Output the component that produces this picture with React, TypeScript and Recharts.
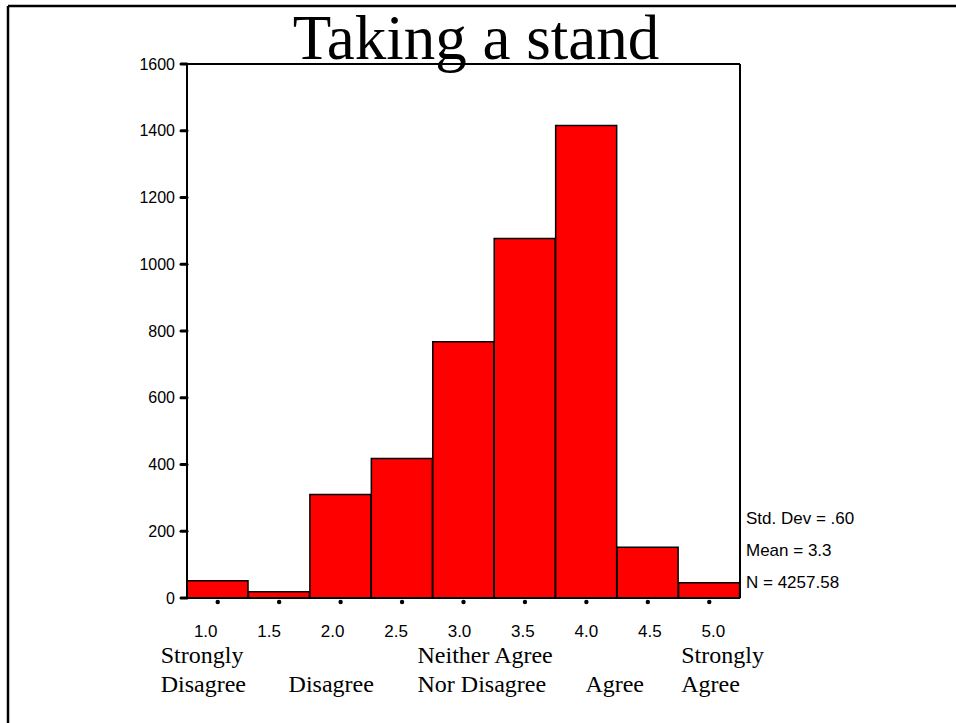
import React from "react";
import { BarChart, Bar, XAxis, YAxis, ReferenceLine } from "recharts";

// histogram bins (midpoints) and counts
const bins = ["1.0", "1.5", "2.0", "2.5", "3.0", "3.5", "4.0", "4.5", "5.0"];
const counts = [52, 19, 310, 418, 768, 1077, 1416, 152, 46];
const yTicks = [0, 200, 400, 600, 800, 1000, 1200, 1400, 1600];

// scale anchors shown below some of the bins
const anchorBins = ["1.0", "2.0", "3.0", "4.0", "5.0"];
const anchorLine1 = ["Strongly", "", "Neither Agree", "", "Strongly"];
const anchorLine2 = ["Disagree", "Disagree", "Nor Disagree", "Agree", "Agree"];

const title = "Taking a stand";
const stats = ["Std. Dev = .60", "Mean = 3.3", "N = 4257.58"];

const data = bins.map((b, i) => ({ bin: b, count: counts[i] }));

const sans = "'Liberation Sans', Arial, sans-serif";
const serif = "'Liberation Serif', 'Times New Roman', serif";
// left edge of each anchor label, relative to its bin tick
const anchorDx = [-57, -52, -46, -1, -28];

const BinTick = (props: any) => {
  const { x, y, payload, index } = props;
  const k = anchorBins.indexOf(payload.value);
  const dx = (index - 4) * 2 - 4;
  return (
    <g>
      <circle cx={x} cy={y + 4} r={2.2} fill="#000" />
      <text x={x + dx} y={y + 39} textAnchor="middle" fontFamily={sans} fontSize={17} fill="#000">
        {payload.value}
      </text>
      {k >= 0 && (
        <>
          <text x={x + anchorDx[k]} y={y + 65} fontFamily={serif} fontSize={24} fill="#000">
            {anchorLine1[k]}
          </text>
          <text x={x + anchorDx[k]} y={y + 94} fontFamily={serif} fontSize={24} fill="#000">
            {anchorLine2[k]}
          </text>
        </>
      )}
    </g>
  );
};

export default function App() {
  return (
    <div style={{ position: "absolute", left: 0, top: 0, width: 956, height: 723, background: "#fff" }}>
      <BarChart
        width={956}
        height={723}
        data={data}
        margin={{ top: 63, right: 215, bottom: 95, left: 127 }}
        barCategoryGap={0}
      >
        <XAxis
          dataKey="bin"
          xAxisId="b"
          height={30}
          tickLine={false}
          tickSize={0}
          tickMargin={0}
          interval={0}
          axisLine={{ stroke: "#000", strokeWidth: 2 }}
          tick={<BinTick />}
        />
        <XAxis dataKey="bin" xAxisId="t" orientation="top" height={1} tick={false} tickLine={false} axisLine={{ stroke: "#000", strokeWidth: 2 }} />
        <YAxis
          yAxisId="l"
          width={60}
          domain={[0, 1600]}
          ticks={yTicks}
          interval={0}
          tickSize={6}
          tickMargin={6}
          tickLine={{ stroke: "#000", strokeWidth: 3, strokeLinecap: "round" }}
          axisLine={{ stroke: "#000", strokeWidth: 2 }}
          tick={{ fill: "#000", fontFamily: sans, fontSize: 16 }}
        />
        <YAxis yAxisId="r" orientation="right" width={1} domain={[0, 1600]} tick={false} tickLine={false} axisLine={{ stroke: "#000", strokeWidth: 2 }} />
        <Bar dataKey="count" xAxisId="b" yAxisId="l" fill="#ff0000" stroke="#000" strokeWidth={1.5} isAnimationActive={false} />
        <ReferenceLine y={1600} xAxisId="b" yAxisId="l" stroke="#000" strokeWidth={2} />
      </BarChart>
      <svg width={956} height={723} style={{ position: "absolute", left: 0, top: 0, pointerEvents: "none" }}>
        <line x1={8} y1={6} x2={956} y2={6} stroke="#000" strokeWidth={2.5} />
        <line x1={8} y1={6} x2={8} y2={723} stroke="#000" strokeWidth={2.5} />
        <text x={476} y={59} textAnchor="middle" fontFamily={serif} fontSize={63} fill="#000">
          {title}
        </text>
        {stats.map((s, i) => (
          <text key={s} x={746} y={524 + i * 32} fontFamily={sans} fontSize={17} fill="#000">
            {s}
          </text>
        ))}
      </svg>
    </div>
  );
}
